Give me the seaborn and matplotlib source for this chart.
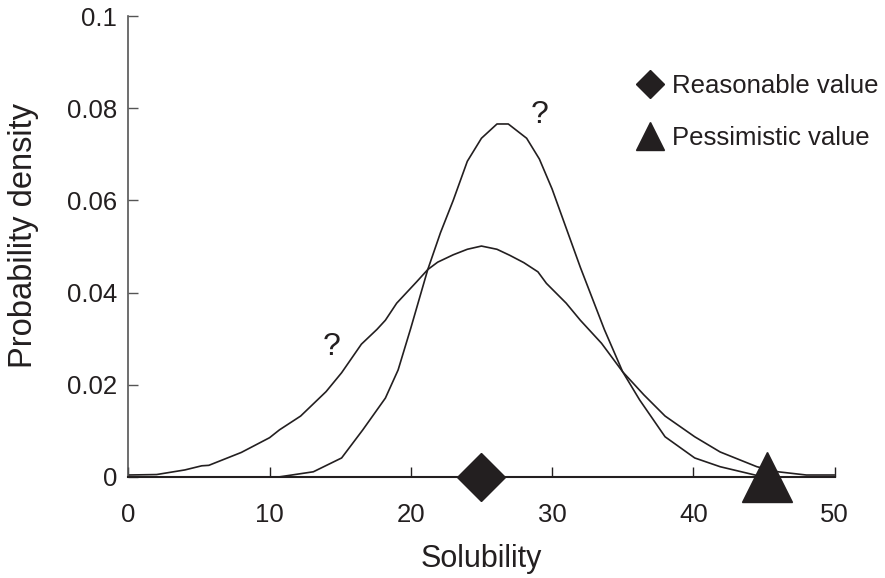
import matplotlib
matplotlib.use("Agg")
import matplotlib.pyplot as plt
from matplotlib.lines import Line2D
import seaborn as sns
import pandas as pd

# Wide distribution
wide_x = [0, 2, 4, 5.2, 5.7, 8, 10, 10.7, 12.2, 14, 15.1, 16.5, 17.6, 18.2, 19, 20.4, 21.2,
          21.9, 23, 24, 25, 26.1, 27, 28, 29, 29.6, 31, 32, 33.5, 35, 36.5, 38, 40.1,
          41.9, 44.5, 46, 48, 50]
wide_y = [0.0004, 0.0005, 0.0015, 0.0024, 0.0025, 0.0053, 0.0085, 0.0102, 0.0132, 0.0185,
          0.0226, 0.0288, 0.0320, 0.0340, 0.0377, 0.0423, 0.0450, 0.0466, 0.0482, 0.0494,
          0.0501, 0.0494, 0.0481, 0.0465, 0.0445, 0.0420, 0.0377, 0.0340, 0.0290, 0.0228,
          0.0178, 0.0132, 0.0087, 0.0054, 0.0022, 0.0011, 0.0004, 0.0004]

# Narrow distribution
narrow_x = [10.7, 13.1, 15.1, 16.6, 18.2, 19.1, 20, 21.2, 22.1, 23, 24, 25, 26.1, 26.9,
            28.2, 29.1, 30, 31, 32, 33.7, 35, 36.2, 38, 40.1, 41.9, 44.5, 45.5]
narrow_y = [0.0, 0.0011, 0.0041, 0.0102, 0.0171, 0.0232, 0.0323, 0.0450, 0.0530, 0.0600,
            0.0685, 0.0735, 0.0766, 0.0766, 0.0735, 0.0690, 0.0625, 0.0540, 0.0455, 0.0320,
            0.0228, 0.0167, 0.0087, 0.0041, 0.0022, 0.0003, 0.0]

reasonable_x = [25]
pessimistic_x = [45.2]
q_x = [29.1, 14.4]
q_y = [0.0785, 0.0282]

x_ticks = [0, 10, 20, 30, 40, 50]
y_ticks = [0, 0.02, 0.04, 0.06, 0.08, 0.1]
y_tick_labels = ["0", "0.02", "0.04", "0.06", "0.08", "0.1"]

sns.set_theme(style="white")
plt.rcParams["font.family"] = ["Liberation Sans", "DejaVu Sans"]

ink = "#231f20"
fig = plt.figure(figsize=(8.85, 5.78), dpi=100)
ax = fig.add_axes([0.145, 0.175, 0.798, 0.797])

df_w = pd.DataFrame({"x": wide_x, "y": wide_y})
df_n = pd.DataFrame({"x": narrow_x, "y": narrow_y})
sns.lineplot(data=df_w, x="x", y="y", ax=ax, color=ink, lw=1.2, sort=False, estimator=None)
sns.lineplot(data=df_n, x="x", y="y", ax=ax, color=ink, lw=1.2, sort=False, estimator=None)

ax.plot(reasonable_x, [0], marker="D", ms=24, color=ink, ls="none", clip_on=False, zorder=5)
ax.plot(pessimistic_x, [0], marker="^", ms=36, color=ink, ls="none", clip_on=False, zorder=5)

for xx, yy in zip(q_x, q_y):
    ax.text(xx, yy, "?", fontsize=23, ha="center", va="center", color=ink)

ax.set_xlim(0, 50)
ax.set_ylim(0, 0.1)
ax.set_xticks(x_ticks)
ax.set_yticks(y_ticks)
ax.set_yticklabels(y_tick_labels)
ax.tick_params(axis="x", direction="in", length=7, width=1, color=ink, labelsize=18.5, pad=19, bottom=True)
ax.tick_params(axis="y", direction="in", length=7, width=1, color="#555555", labelsize=18.5, pad=8, left=True)
for lab in ax.get_xticklabels() + ax.get_yticklabels():
    lab.set_color(ink)

sns.despine(ax=ax)
ax.spines["left"].set_color("#555555")
ax.spines["left"].set_linewidth(1.2)
ax.spines["bottom"].set_color(ink)
ax.spines["bottom"].set_linewidth(1.5)

ax.set_xlabel("Solubility", fontsize=22, color=ink, labelpad=12)
ax.set_ylabel("Probability density", fontsize=23.5, color=ink)
ax.yaxis.set_label_coords(-0.127, 0.525)

handles = [
    Line2D([], [], marker="D", ms=14, color=ink, ls="none"),
    Line2D([], [], marker="^", ms=20, color=ink, ls="none"),
]
ax.legend(handles, ["Reasonable value", "Pessimistic value"], loc="upper left",
          bbox_to_anchor=(0.703, 0.895), bbox_transform=fig.transFigure, frameon=False,
          fontsize=18.5, handletextpad=0.25, labelspacing=1.1, handlelength=1.2,
          labelcolor=ink, borderpad=0)

fig.savefig("out.png", dpi=100)
